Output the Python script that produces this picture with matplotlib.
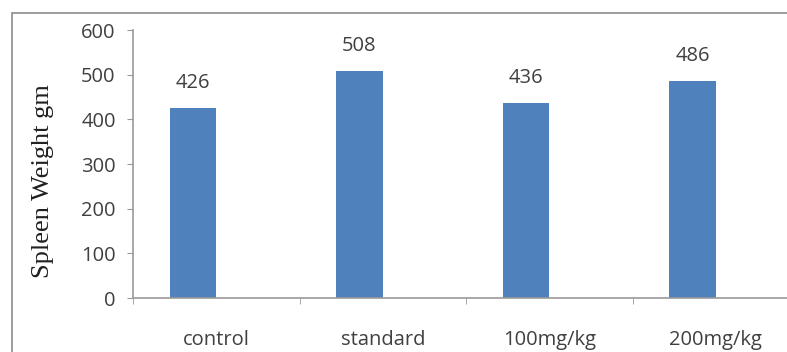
import matplotlib
matplotlib.use("Agg")
import matplotlib.pyplot as plt
import numpy as np
from matplotlib.patches import Rectangle

groups = ["control", "standard", "100mg/kg", "200mg/kg"]
spleen_weight = [426, 508, 436, 486]
y_ticks = [0, 100, 200, 300, 400, 500, 600]

plt.rcParams['font.family'] = ['Open Sans', 'DejaVu Sans']

fig = plt.figure(figsize=(7.87, 3.52), dpi=100)
ax = fig.add_axes([133 / 787, 1 - 298 / 352, 654 / 787, (298 - 30) / 352])

x = np.arange(len(groups))
bars = ax.bar(x - 0.14, spleen_weight, width=0.28, color='#4F81BD', zorder=2)

for xi, v in zip(x, spleen_weight):
    ax.annotate(str(v), (xi - 0.14, v), xytext=(0, 18), textcoords='offset points',
                ha='center', va='center', fontsize=14.5, color='#404040')

ax.set_ylim(0, 600)
ax.set_yticks(y_ticks)
ax.set_xlim(-0.5, -0.5 + 654 / 166.5)
ax.set_xticks(x)
ax.set_xticklabels(groups)
ax.set_xticks(np.arange(len(groups)) - 0.5, minor=True)

axis_col = '#9A9A9A'
for side in ['top', 'right']:
    ax.spines[side].set_visible(False)
for side in ['left', 'bottom']:
    ax.spines[side].set_color(axis_col)
    ax.spines[side].set_linewidth(1.2)

ax.tick_params(axis='x', which='major', length=0, pad=23, labelsize=14.5, colors='#404040')
ax.tick_params(axis='x', which='minor', length=4.5, direction='out', color=axis_col)
ax.tick_params(axis='y', length=4.5, direction='out', color=axis_col, pad=8,
               labelsize=14.5, labelcolor='#404040')

ax.set_ylabel("Spleen Weight gm", family='Liberation Serif', fontsize=19, color='#202020')
ax.yaxis.set_label_coords(-0.121, 0.437)

frame = Rectangle((12 / 787, -0.1), 1.2, 1 - 13 / 352 + 0.1, transform=fig.transFigure,
                  fill=False, edgecolor='#8C8C8C', linewidth=1.2, clip_on=False)
fig.add_artist(frame)

fig.savefig("out.png", dpi=100)
